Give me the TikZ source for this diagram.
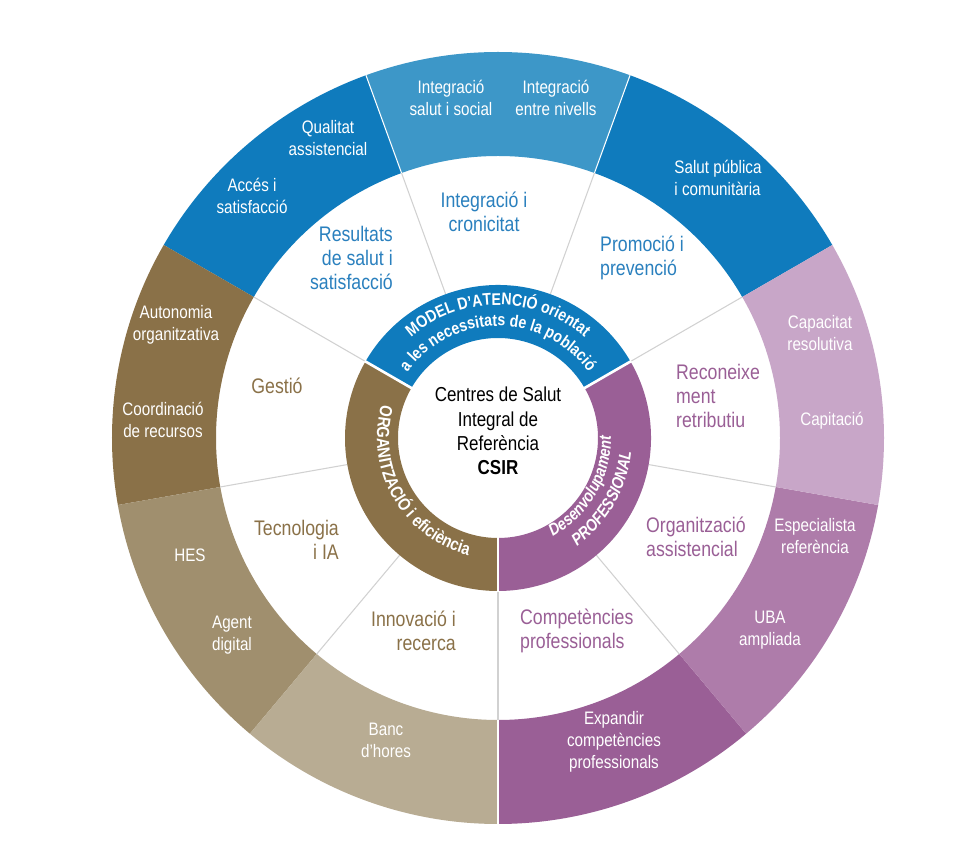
\documentclass[tikz,border=0pt]{standalone}
\usepackage{fontspec}
\setmainfont{Liberation Sans}[FakeStretch=0.84]
\usetikzlibrary{decorations.text}
\definecolor{dblue}{HTML}{0F7BBD}
\definecolor{lblue}{HTML}{3D97C8}
\definecolor{tblue}{HTML}{2A80BE}
\definecolor{dbrown}{HTML}{8A7148}
\definecolor{mbrown}{HTML}{A08F6E}
\definecolor{lbrown}{HTML}{B8AC93}
\definecolor{dpurp}{HTML}{9A5F96}
\definecolor{mpurp}{HTML}{AE7CAA}
\definecolor{lpurp}{HTML}{C8A6C8}
\newcommand{\mysector}[5]{\fill[#1] (#2:#4) arc[start angle=#2,end angle=#3,radius=#4] -- (#3:#5) arc[start angle=#3,end angle=#2,radius=#5] -- cycle;}
\begin{document}
\begin{tikzpicture}[x=0.02cm,y=0.02cm,
  outer/.style={text=white,align=center,font=\fontsize{10.3}{12.5}\selectfont},
  mid/.style={align=#1,font=\fontsize{12}{13.8}\selectfont},
  mid/.default=center,
  ctr/.style={align=center,font=\fontsize{11.5}{13.8}\selectfont}]
\useasboundingbox (0,0) rectangle (975,-864);
\fill[white] (0,0) rectangle (975,-864);
\begin{scope}[shift={(498,-438)}]
% outer ring
\mysector{lblue}{70}{110}{282}{386}
\mysector{dblue}{110}{150}{282}{386}
\mysector{dblue}{30}{70}{282}{386}
\mysector{dbrown}{150}{190}{282}{386}
\mysector{mbrown}{190}{230}{282}{386}
\mysector{lbrown}{230}{270}{282}{386}
\mysector{dpurp}{270}{310}{282}{386}
\mysector{mpurp}{310}{350}{282}{386}
\mysector{lpurp}{350}{390}{282}{386}
\foreach \a in {70,110,270}{\draw[white,line width=0.6pt] (\a:282) -- (\a:386);}
% white ring dividers
\foreach \a in {30,70,110,150,190,230,270,310,350}{\draw[black!18,line width=0.6pt] (\a:153) -- (\a:282);}
% inner band
\mysector{dblue}{30}{150}{100}{153}
\mysector{dbrown}{150}{270}{100}{153}
\mysector{dpurp}{270}{390}{100}{153}
\foreach \a in {30,150,270}{\draw[white,line width=1.5pt] (\a:99) -- (\a:154);}
% curved band texts
\path[decorate,decoration={text along path,text align=center,text color=white,
  text={|\fontsize{9.6}{11}\selectfont\bfseries|MODEL D'ATENCIÓ orientat}}]
  (148:133) arc[start angle=148,end angle=32,radius=133];
\path[decorate,decoration={text along path,text align=center,text color=white,
  text={|\fontsize{9.6}{11}\selectfont\bfseries|a les necessitats de la població}}]
  (150:112) arc[start angle=150,end angle=30,radius=112];
\path[decorate,decoration={text along path,text align=center,text color=white,
  text={|\fontsize{10}{11}\selectfont\bfseries|ORGANITZACIÓ i eficiència}}]
  (152:121) arc[start angle=152,end angle=268,radius=121];
\path[decorate,decoration={text along path,text align=center,text color=white,
  text={|\fontsize{9.6}{11}\selectfont\bfseries\itshape|Desenvolupament}}]
  (272:113) arc[start angle=272,end angle=388,radius=113];
\path[decorate,decoration={text along path,text align=center,text color=white,
  text={|\fontsize{9.6}{11}\selectfont\bfseries\itshape|PROFESSIONAL}}]
  (272:134) arc[start angle=272,end angle=388,radius=134];
\end{scope}
% outer texts
\node[outer] (o1) at (451,-98) {Integració\\salut i social};
\node[outer] (o2) at (556,-98) {Integració\\entre nivells};
\node[outer] (o3) at (328,-138) {Qualitat\\assistencial};
\node[outer] (o4) at (252,-196) {Accés i\\satisfacció};
\node[outer,align=left] (o5) at (718,-178) {Salut pública\\i comunitària};
\node[outer] (o6) at (176,-325) {Autonomia\\organitzativa};
\node[outer] (o7) at (163,-420) {Coordinació\\de recursos};
\node[outer] (o8) at (820,-333) {Capacitat\\resolutiva};
\node[outer] (o9) at (832,-421) {Capitació};
\node[outer] (o10) at (190,-555) {HES};
\node[outer] (o11) at (232,-635) {Agent\\digital};
\node[outer] (o12) at (386,-740) {Banc\\d’hores};
\node[outer] (o13) at (614,-742) {Expandir\\competències\\professionals};
\node[outer] (o14) at (815,-536) {Especialista\\referència};
\node[outer] (o15) at (770,-630) {UBA\\ampliada};
% white ring texts
\node[mid,text=tblue] (m1) at (484,-212) {Integració i\\cronicitat};
\node[mid=right,text=tblue,anchor=east] (m2) at (399,-258) {Resultats\\de salut i\\satisfacció};
\node[mid=left,text=tblue,anchor=west] (m3) at (594,-258) {Promoció i\\prevenció};
\node[mid,text=dbrown] (m4) at (277,-386) {Gestió};
\node[mid=right,text=dbrown,anchor=east] (m5) at (345,-540) {Tecnologia\\i IA};
\node[mid=right,text=dbrown,anchor=east] (m6) at (462,-631) {Innovació i\\recerca};
\node[mid=left,text=dpurp,anchor=west] (m7) at (514,-631) {Competències\\professionals};
\node[mid=left,text=dpurp,anchor=west] (m8) at (640,-537) {Organització\\assistencial};
\node[mid=left,text=dpurp,anchor=west] (m9) at (670,-396) {Reconeixe\\ment\\retributiu};
% center
\node[ctr] (c) at (498,-431) {Centres de Salut\\Integral de\\Referència\\\textbf{CSIR}};
\end{tikzpicture}
\end{document}
